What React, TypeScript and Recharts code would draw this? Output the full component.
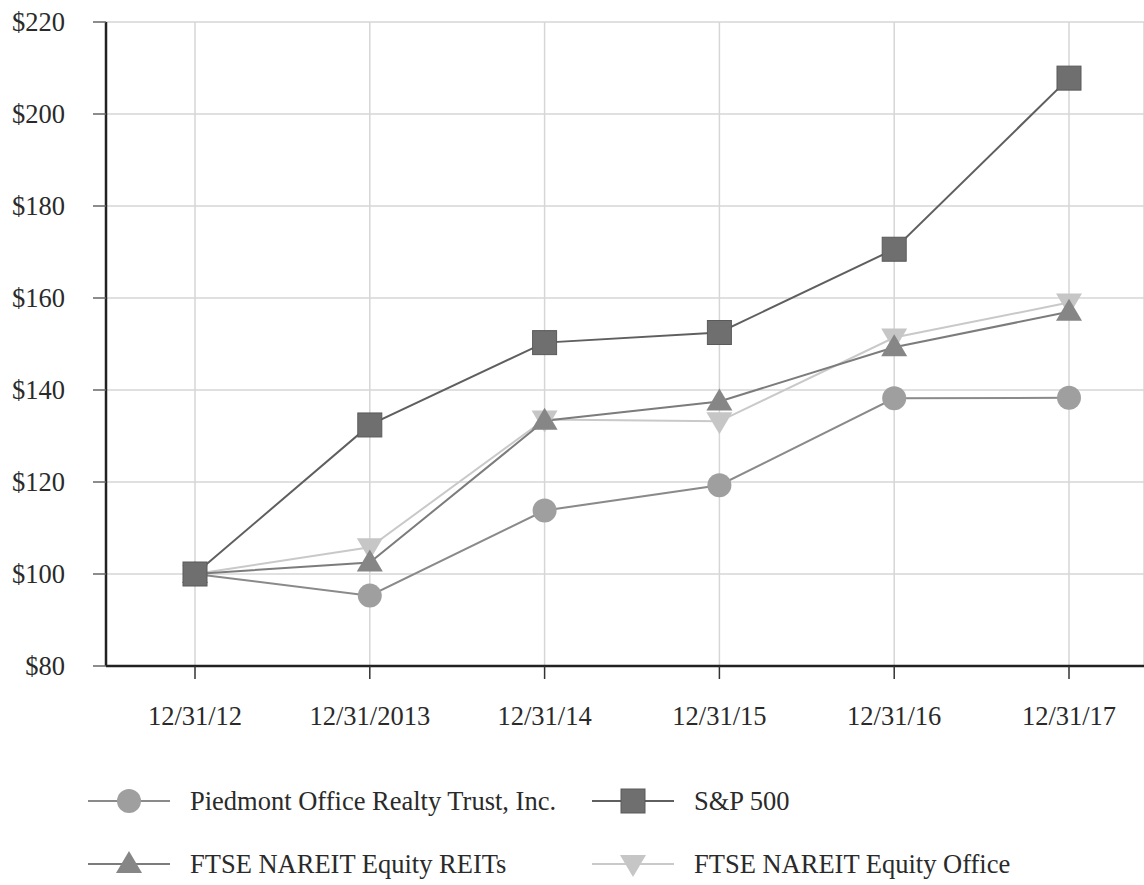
import React from 'react';
import { LineChart, Line, XAxis, YAxis, CartesianGrid, Legend } from 'recharts';

const categories = ['12/31/12', '12/31/2013', '12/31/14', '12/31/15', '12/31/16', '12/31/17'];
const piedmont = [100, 95.3, 113.8, 119.3, 138.2, 138.3];
const sp500 = [100, 132.4, 150.3, 152.5, 170.6, 207.8];
const reits = [100, 102.5, 133.3, 137.5, 149.3, 157.0];
const office = [100, 105.8, 133.6, 133.2, 151.4, 159.0];
const yTicks = [80, 100, 120, 140, 160, 180, 200, 220];

const seriesNames = {
  piedmont: 'Piedmont Office Realty Trust, Inc.',
  sp500: 'S&P 500',
  reits: 'FTSE NAREIT Equity REITs',
  office: 'FTSE NAREIT Equity Office',
};

const data = categories.map((date, i) => ({
  date,
  piedmont: piedmont[i],
  sp500: sp500[i],
  reits: reits[i],
  office: office[i],
}));

const FONT = 'Liberation Serif';

type ShapeKind = 'circle' | 'square' | 'up' | 'down';

const Marker = ({ kind, cx, cy, fill }: { kind: ShapeKind; cx: number; cy: number; fill: string }) => {
  if (kind === 'circle') return <circle cx={cx} cy={cy} r={12} fill={fill} />;
  if (kind === 'square')
    return <rect x={cx - 12} y={cy - 12} width={24} height={24} fill={fill} stroke="#5a5a5a" strokeWidth={1} />;
  if (kind === 'up')
    return <polygon points={`${cx},${cy - 13} ${cx - 13},${cy + 9} ${cx + 13},${cy + 9}`} fill={fill} />;
  return <polygon points={`${cx - 13},${cy - 9} ${cx + 13},${cy - 9} ${cx},${cy + 13}`} fill={fill} />;
};

const series: { key: keyof typeof seriesNames; kind: ShapeKind; line: string; fill: string }[] = [
  { key: 'piedmont', kind: 'circle', line: '#8a8a8a', fill: '#9f9f9f' },
  { key: 'sp500', kind: 'square', line: '#5f5f5f', fill: '#6f6f6f' },
  { key: 'reits', kind: 'up', line: '#7c7c7c', fill: '#868686' },
  { key: 'office', kind: 'down', line: '#c9c9c9', fill: '#c6c6c6' },
];

const drawOrder = ['office', 'reits', 'piedmont', 'sp500'];

const LegendContent = () => (
  <div style={{ position: 'relative', width: 1144, height: 115, fontFamily: FONT }}>
    {series.map((s, i) => {
      const col = i % 2;
      const row = Math.floor(i / 2);
      const left = col === 0 ? 88 : 592;
      const top = row === 0 ? 31 : 94;
      return (
        <div key={s.key} style={{ position: 'absolute', left, top: top - 15, height: 30, display: 'flex', alignItems: 'center' }}>
          <svg width={82} height={30} style={{ display: 'block' }}>
            <line x1={0} y1={15} x2={82} y2={15} stroke={s.line} strokeWidth={2} />
            <Marker kind={s.kind} cx={41} cy={15} fill={s.fill} />
          </svg>
          <span style={{ marginLeft: 20, fontSize: 26.5, color: '#2a2a2a', whiteSpace: 'nowrap' }}>{seriesNames[s.key]}</span>
        </div>
      );
    })}
  </div>
);

export default function App() {
  return (
    <div style={{ position: 'absolute', left: 0, top: 0, width: 1144, height: 885, background: '#fff' }}>
      <LineChart
        width={1144}
        height={885}
        data={data}
        margin={{ top: 22, right: 0, left: 0, bottom: 159 }}
      >
        <CartesianGrid stroke="#d6d6d6" strokeWidth={1.5} />
        <XAxis
          dataKey="date"
          padding={{ left: 89, right: 75 }}
          height={60}
          axisLine={{ stroke: '#222', strokeWidth: 2.5 }}
          tickLine={{ stroke: '#333', strokeWidth: 1.5 }}
          tickSize={13}
          tickMargin={27}
          tick={{ fill: '#2a2a2a', fontSize: 26.5, fontFamily: FONT }}
          interval={0}
        />
        <YAxis
          type="number"
          domain={[80, 220]}
          ticks={yTicks}
          width={106}
          tickFormatter={(v: number) => `$${v}`}
          axisLine={{ stroke: '#222', strokeWidth: 2.5 }}
          tickLine={{ stroke: '#666', strokeWidth: 1.5 }}
          tickSize={13}
          tickMargin={28}
          tick={{ fill: '#2a2a2a', fontSize: 26.5, fontFamily: FONT }}
          interval={0}
        />
        {drawOrder.map((k) => {
          const s = series.find((x) => x.key === k)!;
          return (
            <Line
              key={s.key}
              dataKey={s.key}
              name={seriesNames[s.key]}
              stroke={s.line}
              strokeWidth={2}
              isAnimationActive={false}
              dot={(p: any) => <Marker key={`${s.key}-${p.index}`} kind={s.kind} cx={p.cx} cy={p.cy} fill={s.fill} />}
              activeDot={false}
            />
          );
        })}
        <Legend
          verticalAlign="middle"
          align="center"
          content={() => <LegendContent />}
          wrapperStyle={{ top: 770, left: 0, width: 1144, height: 115 }}
        />
      </LineChart>
    </div>
  );
}
